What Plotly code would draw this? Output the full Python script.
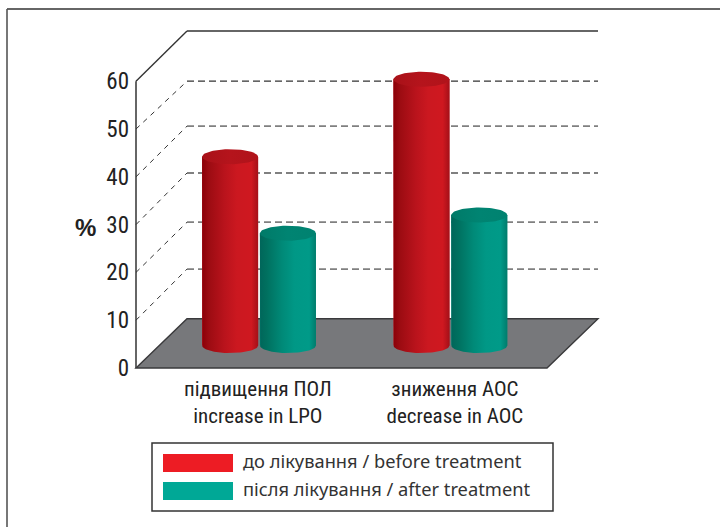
import numpy as np
import plotly.graph_objects as go

# ---- data ----
categories = ["підвищення ПОЛ<br>increase in LPO", "зниження АОС<br>decrease in AOC"]
series_names = ["до лікування / before treatment", "після лікування / after treatment"]
before_values = [39.5, 55.7]
after_values = [23.5, 27.3]
y_ticks = [0, 10, 20, 30, 40, 50, 60]
back_wall_levels = [10.3, 20.7, 30.5, 40.8, 50.6, 60.0, 70.5]

# ---- layout constants ----
W, H = 720, 527
L, R, T, B = 132, 602, 28, 372
PX_PER_UNIT = 4.78
PX_PER_CAT = 191.35
X0_PX = 259
xr = [(L - X0_PX) / PX_PER_CAT, (R - X0_PX) / PX_PER_CAT]
yr = [(368 - B) / PX_PER_UNIT, (368 - T) / PX_PER_UNIT]
FRONT_X = (136 - X0_PX) / PX_PER_CAT
DEPTH_X = 51 / PX_PER_CAT
END_X = (598 - X0_PX) / PX_PER_CAT
BAR_OFFSET = 28.9 / PX_PER_CAT
RX = 28.0 / PX_PER_CAT
RY = 7.5 / PX_PER_UNIT
BAR_BASE = 4.7
GROUP_X = [0.0, 1.0]
TICK_X = [-0.006, 1.024]
NARROW = "Roboto Condensed, Liberation Sans Narrow, DejaVu Sans Condensed, Liberation Sans"

RED_BODY = [[0, "#8b0008"], [0.12, "#9c0c12"], [0.4, "#b9131c"], [0.62, "#cb1820"], [0.88, "#cf1820"], [1, "#a41018"]]
TEAL_BODY = [[0, "#00665a"], [0.12, "#00705f"], [0.4, "#008a78"], [0.62, "#009886"], [0.88, "#009a88"], [1, "#007c6c"]]
RED_CAP = [[0, "#a81118"], [0.5, "#b5141c"], [1, "#b0131a"]]
TEAL_CAP = [[0, "#007a68"], [0.5, "#008472"], [1, "#008270"]]


def px_x(px):
    return (px - L) / (R - L)


def px_y(py):
    return (B - py) / (B - T)


fig = go.Figure()


def cylinder(xc, value, body, cap, mid, name):
    top = BAR_BASE + value
    fig.add_trace(go.Bar(x=[xc], y=[value], base=[BAR_BASE], width=2 * RX, marker=dict(color=mid, line_width=0),
                         name=name, showlegend=False, hoverinfo="skip"))
    t = np.linspace(np.pi, 2 * np.pi, 40)
    xs = np.concatenate([[xc - RX], xc + RX * np.cos(t), [xc + RX]])
    ys = np.concatenate([[top], BAR_BASE + RY * np.sin(t), [top]])
    fig.add_trace(go.Scatter(x=xs, y=ys, mode="lines", line=dict(width=0), fill="toself",
                             fillgradient=dict(type="horizontal", colorscale=body),
                             showlegend=False, hoverinfo="skip"))
    a = np.linspace(0, 2 * np.pi, 80)
    fig.add_trace(go.Scatter(x=xc + RX * np.cos(a), y=top + RY * np.sin(a), mode="lines", line=dict(width=0),
                             fill="toself", fillgradient=dict(type="horizontal", colorscale=cap),
                             showlegend=False, hoverinfo="skip"))


for gx, v in zip(GROUP_X, before_values):
    cylinder(gx - BAR_OFFSET, v, RED_BODY, RED_CAP, "#b9131c", series_names[0])
for gx, v in zip(GROUP_X, after_values):
    cylinder(gx + BAR_OFFSET, v, TEAL_BODY, TEAL_CAP, "#008a78", series_names[1])

shapes = []
# outer frame (paper coordinates)
shapes.append(dict(type="line", xref="paper", yref="paper", x0=px_x(7), x1=px_x(720), y0=px_y(9), y1=px_y(9),
                   line=dict(color="#333333", width=1.6)))
shapes.append(dict(type="line", xref="paper", yref="paper", x0=px_x(7), x1=px_x(7), y0=px_y(9), y1=px_y(527),
                   line=dict(color="#555555", width=1.6)))
# side wall axis
shapes.append(dict(type="line", x0=FRONT_X, x1=FRONT_X, y0=0, y1=60, line=dict(color="#666666", width=2)))
# grid lines: side wall and back wall
for tick, level in zip(y_ticks[1:6], back_wall_levels[1:6]):
    shapes.append(dict(type="line", x0=FRONT_X, x1=FRONT_X + DEPTH_X, y0=tick, y1=level,
                       line=dict(color="#333333", width=1, dash="5px,5px")))
    shapes.append(dict(type="line", x0=FRONT_X + DEPTH_X, x1=END_X, y0=level, y1=level,
                       line=dict(color="#333333" if tick == 50 else "#808080", width=1.2 if tick == 50 else 1.8,
                                 dash="7px,4px")))
# top edge
shapes.append(dict(type="line", x0=FRONT_X, x1=FRONT_X + DEPTH_X, y0=60, y1=back_wall_levels[6],
                   line=dict(color="#333333", width=1.4)))
shapes.append(dict(type="line", x0=FRONT_X + DEPTH_X, x1=END_X, y0=back_wall_levels[6], y1=back_wall_levels[6],
                   line=dict(color="#333333", width=1.6)))
# floor
fl = back_wall_levels[0]
floor_path = (f"M {FRONT_X} 0 L {FRONT_X + DEPTH_X} {fl} L {END_X} {fl} L {END_X - DEPTH_X} 0 Z")
shapes.append(dict(type="path", path=floor_path, fillcolor="#77787b", line=dict(color="#3a3a3c", width=1.4), layer="below"))
for s in shapes:
    s.setdefault("layer", "below")

# legend box drawn to match the reference proportions
annotations = []
shapes.append(dict(type="rect", xref="paper", yref="paper", x0=px_x(152), x1=px_x(553), y0=px_y(511), y1=px_y(443),
                   line=dict(color="#333333", width=1.5), fillcolor="white"))
for py0, py1, col, name in [(454, 472, "#ed1c24", series_names[0]), (482, 500, "#00a896", series_names[1])]:
    shapes.append(dict(type="rect", xref="paper", yref="paper", x0=px_x(163), x1=px_x(233), y0=px_y(py1), y1=px_y(py0),
                       line_width=0, fillcolor=col))
    annotations.append(dict(xref="paper", yref="paper", x=px_x(241), y=px_y((py0 + py1) / 2 - 2.5), text=name,
                            showarrow=False, xanchor="left", yanchor="middle",
                            font=dict(family="Noto Sans", size=18.3, color="#333333")))
annotations.append(dict(xref="paper", yref="paper", x=px_x(85), y=px_y(228), text="<b>%</b>", showarrow=False,
                        xanchor="center", yanchor="middle",
                        font=dict(family="Liberation Sans", size=24, color="#222222")))

fig.update_layout(
    width=W, height=H, autosize=False, showlegend=False, barmode="overlay",
    paper_bgcolor="white", plot_bgcolor="white",
    margin=dict(l=L, r=W - R, t=T, b=H - B, autoexpand=False),
    shapes=shapes, annotations=annotations,
    xaxis=dict(range=xr, tickmode="array", tickvals=TICK_X, ticktext=categories, showgrid=False, zeroline=False,
               showline=False, ticks="", tickangle=0, ticklabelstandoff=2,
               tickfont=dict(family=NARROW, size=21, color="#222222")),
    yaxis=dict(range=yr, tickmode="array", tickvals=y_ticks, showgrid=False, zeroline=False, showline=False, ticks="",
               ticklabelstandoff=2,
               tickfont=dict(family=NARROW, size=23, color="#222222")),
)
fig.write_html("out.html", config={"displayModeBar": False},
               post_script="document.body.style.margin='0';document.body.style.overflow='hidden';")
